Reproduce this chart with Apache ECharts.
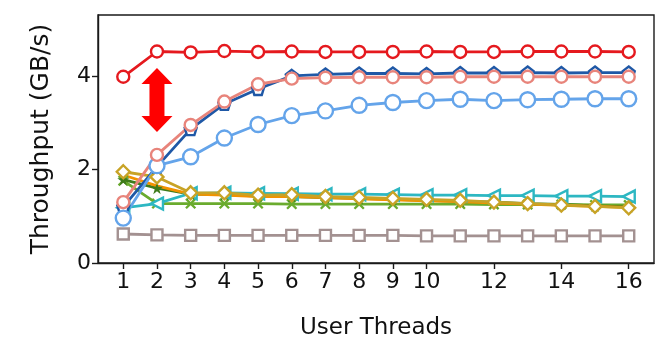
<!DOCTYPE html>
<html>
<head>
<meta charset="utf-8">
<script src="https://cdn.jsdelivr.net/npm/echarts@6/dist/echarts.min.js"></script>
<style>html,body{margin:0;padding:0;background:#fff;}#c{width:661px;height:345px;}</style>
</head>
<body>
<div id="c"></div>
<script>
const threads = [1,2,3,4,5,6,7,8,9,10,11,12,13,14,15,16];
const xTickValues = [1,2,3,4,5,6,7,8,9,10,12,14,16];
const yTickValues = [0,2,4];

const grayVals      = [0.62,0.60,0.59,0.59,0.59,0.59,0.59,0.59,0.59,0.58,0.58,0.58,0.58,0.58,0.58,0.58];
const greenXVals    = [1.76,1.27,1.27,1.27,1.27,1.26,1.26,1.26,1.26,1.26,1.26,1.25,1.25,1.25,1.24,1.24];
const tealVals      = [1.18,1.27,1.49,1.50,1.49,1.48,1.47,1.47,1.46,1.45,1.45,1.44,1.44,1.43,1.43,1.42];
const darkGreenVals = [1.78,1.60,1.47,1.46,1.43,1.42,1.40,1.38,1.36,1.34,1.32,1.30,1.27,1.25,1.22,1.20];
const orangeVals    = [1.88,1.65,1.47,1.45,1.42,1.42,1.40,1.37,1.35,1.33,1.31,1.28,1.26,1.23,1.21,1.19];
const oliveVals     = [1.95,1.84,1.50,1.50,1.45,1.46,1.42,1.40,1.38,1.36,1.34,1.30,1.27,1.24,1.21,1.18];
const lightBlueVals = [0.96,2.08,2.27,2.67,2.96,3.15,3.25,3.37,3.43,3.47,3.50,3.47,3.49,3.50,3.51,3.51];
const darkBlueVals  = [1.20,2.06,2.86,3.40,3.72,4.00,4.03,4.05,4.05,4.04,4.06,4.06,4.07,4.06,4.07,4.07];
const salmonVals    = [1.30,2.31,2.95,3.45,3.82,3.94,3.96,3.97,3.97,3.97,3.98,3.98,3.98,3.98,3.98,3.98];
const redVals       = [3.98,4.52,4.50,4.53,4.51,4.52,4.51,4.51,4.51,4.52,4.51,4.51,4.52,4.52,4.52,4.51];

const arrowX = 2, arrowTop = 4.17, arrowBottom = 2.80;

const FONT = 'DejaVu Sans';
function pairs(vals){ return threads.map((t,i)=>[t, vals[i]]); }

function lineSeries(name, vals, color, symbol, size, opts){
  opts = opts || {};
  return {
    name, type:'line', data: pairs(vals),
    symbol, symbolSize: size, showAllSymbol: true,
    lineStyle:{color, width: opts.lw || 2.8},
    itemStyle:{color: opts.fill || '#ffffff', borderColor: color, borderWidth: opts.bw === undefined ? 2.4 : opts.bw},
    emphasis:{disabled:true}, animation:false, z: 2
  };
}

const pentagon = 'path://M0,-10 L9.5,-3.1 L5.9,8.1 L-5.9,8.1 L-9.5,-3.1 Z';
const leftTri = 'path://M0,5 L10,0 L10,10 Z';
const xShape = 'path://M0,1.5 L1.5,0 L5,3.5 L8.5,0 L10,1.5 L6.5,5 L10,8.5 L8.5,10 L5,6.5 L1.5,10 L0,8.5 L3.5,5 Z';
const star = 'path://M5,0 L6.2,3.6 L10,3.6 L6.9,5.8 L8.1,9.5 L5,7.2 L1.9,9.5 L3.1,5.8 L0,3.6 L3.8,3.6 Z';

const chart = echarts.init(document.getElementById('c'), null, {renderer:'canvas'});
chart.setOption({
  animation:false,
  backgroundColor:'#ffffff',
  grid:{left:98, right:7, top:15, bottom:82, show:true, borderColor:'#1a1a1a', borderWidth:1.4, backgroundColor:'transparent'},
  xAxis:{
    type:'value', min:0.25, max:16.75,
    name:'User Threads', nameLocation:'middle', nameGap:54,
    nameTextStyle:{fontFamily:FONT, fontSize:23, color:'#111'},
    axisLine:{show:true, lineStyle:{color:'#1a1a1a', width:1.4}},
    axisTick:{show:true, length:6, lineStyle:{color:'#1a1a1a', width:1.4}, customValues: xTickValues},
    axisLabel:{fontFamily:FONT, fontSize:22, color:'#111', margin:8, customValues: xTickValues},
    splitLine:{show:false}
  },
  yAxis:{
    type:'value', min:0, max:5.3,
    name:'Throughput (GB/s)', nameLocation:'middle', nameGap:44,
    nameTextStyle:{fontFamily:FONT, fontSize:25, color:'#111'},
    axisLine:{show:true, lineStyle:{color:'#1a1a1a', width:1.4}},
    axisTick:{show:true, length:6, lineStyle:{color:'#1a1a1a', width:1.4}, customValues: yTickValues},
    axisLabel:{fontFamily:FONT, fontSize:22, color:'#111', margin:7, customValues: yTickValues},
    splitLine:{show:false}
  },
  series:[
    lineSeries('gray', grayVals, '#a39191', 'rect', 11),
    lineSeries('greenX', greenXVals, '#6aab2e', xShape, 11, {fill:'#6aab2e', bw:0}),
    lineSeries('teal', tealVals, '#2db7c2', leftTri, 12),
    lineSeries('darkGreen', darkGreenVals, '#3e7b1b', star, 12, {fill:'#3e7b1b', bw:0}),
    lineSeries('orange', orangeVals, '#f29200', 'none', 1),
    lineSeries('olive', oliveVals, '#c8a326', 'diamond', 13),
    lineSeries('darkBlue', darkBlueVals, '#1f58a6', pentagon, 12),
    lineSeries('lightBlue', lightBlueVals, '#64a4ea', 'circle', 15),
    lineSeries('salmon', salmonVals, '#e8847b', 'circle', 12),
    lineSeries('red', redVals, '#e5191e', 'circle', 12),
    {
      type:'custom', name:'arrow', animation:false, z:5,
      data:[[arrowX, arrowTop, arrowBottom]],
      encode:{x:0, y:[1,2]},
      renderItem:function(params, api){
        const p1 = api.coord([api.value(0), api.value(1)]);
        const p2 = api.coord([api.value(0), api.value(2)]);
        const cx = p1[0], t = p1[1], b = p2[1];
        const hw = 15.5, hh = 16, sw = 7.5;
        return {
          type:'polygon',
          shape:{points:[[cx,t],[cx+hw,t+hh],[cx+sw,t+hh],[cx+sw,b-hh],[cx+hw,b-hh],[cx,b],[cx-hw,b-hh],[cx-sw,b-hh],[cx-sw,t+hh],[cx-hw,t+hh]]},
          style:{fill:'#ff0000'}
        };
      }
    }
  ]
});
</script>
</body>
</html>
